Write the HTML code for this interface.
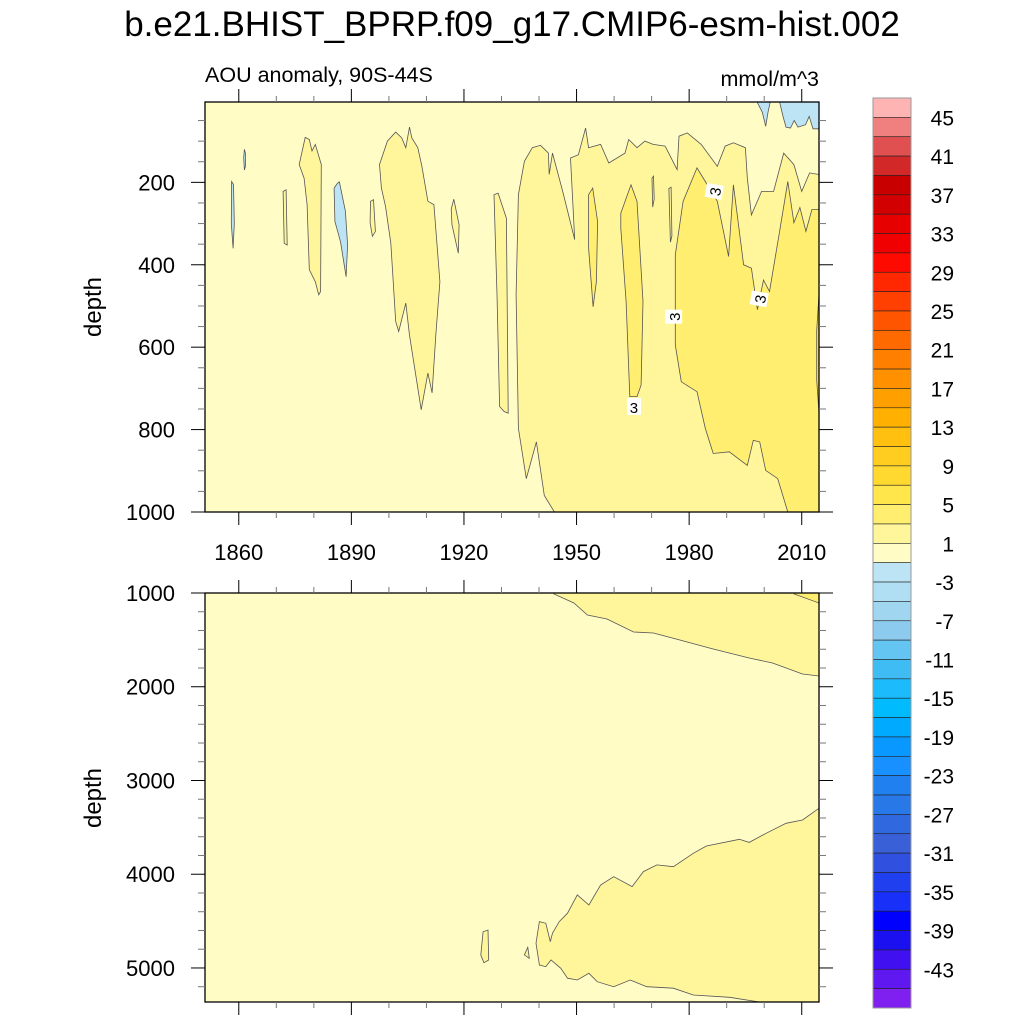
<!DOCTYPE html>
<html><head><meta charset="utf-8">
<style>
html,body{margin:0;padding:0;background:#fff;}
svg{display:block;font-family:"Liberation Sans",sans-serif;}
</style></head>
<body>
<svg id="chart" width="1024" height="1024" viewBox="0 0 1024 1024" xmlns="http://www.w3.org/2000/svg">
<text x="512" y="36" font-size="35" text-anchor="middle">b.e21.BHIST_BPRP.f09_g17.CMIP6-esm-hist.002</text>
<text x="205" y="82" font-size="21.5">AOU anomaly, 90S-44S</text>
<text x="819" y="86" font-size="21.5" text-anchor="end">mmol/m^3</text>
<g id="top"></g>
<g id="bot"></g>
<g id="cbar"></g>
<text transform="translate(101,307) rotate(-90)" font-size="24" text-anchor="middle">depth</text>
<text transform="translate(101,798) rotate(-90)" font-size="24" text-anchor="middle">depth</text>
</svg>
<script>
const NS="http://www.w3.org/2000/svg";
// ---- data ----
const xTickYears=[1860,1890,1920,1950,1980,2010];
const topDepthTicks=[200,400,600,800,1000];
const botDepthTicks=[1000,2000,3000,4000,5000];
const levelLabels=[45,41,37,33,29,25,21,17,13,9,5,1,-3,-7,-11,-15,-19,-23,-27,-31,-35,-39,-43];
const levelColors=["#ffb4b4","#f08080","#e05050","#d32828","#c80000","#d20000","#e60000","#f00000","#ff0a00","#ff2800","#ff4000","#ff5500","#ff6a00","#ff8000","#ff9000","#ffa000","#ffb000","#ffc010","#ffcc20","#ffd830","#ffe64a","#ffee70","#fff59b","#fffcc6","#bde4f5","#b0def3","#a0d6f0","#8ccbee","#64c4f2","#40bcf5","#1cbcfc","#00bcff","#00aaff","#0898ff","#1890ff","#2080f0","#2878e8","#3068e0","#3a60d8","#3050e0","#2040f0","#1830f8","#0000ff","#1a10f0","#4010f0","#6018f0","#8020f0"];
// contour regions [year, depth]
const topMain=[[1944.1,1000],[1941.4,960],[1939.3,830],[1936.6,919],[1934.5,797],[1933.9,473],[1934.5,230],[1936.1,149],[1938.2,116],[1940.4,110],[1942.5,129],[1942.7,181],[1943.6,129],[1946.3,222],[1949.5,339],[1948.4,141],[1950.5,133],[1952.4,68],[1953.2,116],[1956.4,108],[1958.6,153],[1962.9,129],[1963.9,96],[1966.1,116],[1968.2,100],[1970.4,108],[1973.6,112],[1976.8,169],[1977.3,88],[1979.5,80],[1983.2,108],[1987.5,161],[1989.6,112],[1991.8,104],[1995,116],[1995.5,189],[1996.6,279],[1999.3,222],[2002.5,222],[2005.2,129],[2007.9,157],[2010,222],[2012.1,177],[2014.6,181],[2014.6,1000]];
const topDark=[[2006.3,1000],[2003.6,919],[2000.4,899],[1998.8,830],[1997.1,826],[1995.5,887],[1990.7,854],[1986.4,858],[1984.3,797],[1982.1,708],[1977.9,684],[1976.3,595],[1976.3,376],[1978.4,246],[1982.1,165],[1984.3,198],[1987.5,246],[1990.5,380],[1991.8,206],[1994.5,400],[1996.6,408],[1998.2,509],[1999.8,437],[2001.4,465],[2004.1,319],[2006.3,198],[2007.9,298],[2009.5,261],[2011.1,319],[2012.7,266],[2014.6,266],[2014.6,1000]];
const topDarker=[[2014.6,470],[2014.0,560],[2014.0,680],[2014.6,760]];
const col1965=[[1961.8,275],[1964.5,206],[1966.1,246],[1967.7,489],[1967.2,692],[1966.1,720],[1964.2,720],[1963.2,489],[1961.8,311]];
const col1955=[[1953.2,230],[1954.3,214],[1955.6,295],[1955.3,441],[1954.4,502],[1953.2,360]];
const reg1905=[[1897.5,157],[1899.6,100],[1901.8,78],[1903.4,92],[1904.5,116],[1905.5,66],[1906.1,92],[1907.7,116],[1908.8,161],[1910.4,246],[1912,254],[1913.6,441],[1912.5,571],[1911.5,711],[1910.4,663],[1908.6,752],[1905.5,571],[1904.5,493],[1902.6,562],[1901.8,538],[1900.5,347],[1899.1,258],[1898,214]];
const reg1880=[[1876.1,157],[1877.7,91],[1878.8,96],[1879.5,124],[1880.4,108],[1882,157],[1881.8,465],[1881.3,473],[1880.4,441],[1878.8,412],[1878.2,254],[1877.4,190]];
const reg1930=[[1928,230],[1929.1,226],[1931.3,287],[1931.8,760],[1930.7,756],[1929.5,744],[1928.8,473]];
const reg1917=[[1916.6,265],[1917.3,241],[1918.7,303],[1918.5,372],[1916.8,303]];
const reg1872=[[1871.8,222],[1872.6,218],[1872.9,352],[1872.1,348]];
const reg1895=[[1895.1,246],[1895.9,242],[1896.4,319],[1895.6,331],[1895,298]];
const reg1970=[[1970.1,190],[1970.5,185],[1970.7,240],[1970.3,260]];
const reg1975=[[1974.6,215],[1975.2,212],[1975.4,330],[1975,345]];
const blue1888=[[1885.4,214],[1886.3,202],[1886.8,199],[1888.4,270],[1889,352],[1888.6,429],[1887.1,344],[1885.6,295]];
const blue1858=[[1858.1,198],[1858.6,205],[1858.8,300],[1858.5,360],[1858.0,300]];
const blue1861=[[1861.5,120],[1861.8,130],[1861.8,160],[1861.5,170],[1861.3,140]];
const blueA=[[1998.1,5],[1999.5,30],[2000.4,64],[2001,30],[2001.6,5]];
const blueB=[[2004.1,5],[2005,40],[2005.8,66],[2007,68],[2008,50],[2009,66],[2011,60],[2012,40],[2013,70],[2014.6,70],[2014.6,5]];
const labelPos=[[1986.8,222,-80],[1998.8,483,-80],[1976,526,-90],[1965.3,745,0]];
const botUpper=[[1944.0,1000],[1944.0,1011],[1949.3,1107],[1952.9,1235],[1958.1,1277],[1965.2,1416],[1970.5,1427],[1977.5,1501],[1986.4,1597],[1996,1693],[2002.2,1747],[2010.2,1864],[2014.6,1885],[2014.6,1000]];
const botCorner=[[2008,1000],[2008,1011],[2014.6,1107],[2014.6,1000]];
const botLower=[[2014.6,3297],[2010.2,3421],[2005.8,3457],[2000.5,3563],[1996,3660],[1993.4,3627],[1984.6,3699],[1981.1,3777],[1975.8,3920],[1971.4,3901],[1967.8,3972],[1964.8,4132],[1959.9,4026],[1956.4,4115],[1953.3,4328],[1950.2,4221],[1947.6,4416],[1945.4,4505],[1943.6,4629],[1943,4719],[1941.8,4523],[1940.1,4505],[1939.2,4736],[1940.1,4968],[1941.8,4986],[1943.2,4915],[1945.8,5003],[1947.6,5109],[1950.2,5128],[1953.3,5057],[1955.5,5146],[1959.9,5200],[1964.3,5128],[1968.7,5200],[1975.8,5216],[1981.1,5288],[1990.8,5313],[1998.7,5370],[2014.6,5370]];
const botSmall1=[[1925.1,4613],[1926.4,4595],[1926.6,4915],[1925.3,4944],[1924.5,4861]];
const botSmall2=[[1937,4779],[1937.4,4897],[1936.1,4861]];
// ---- axes ----
const X0=205,X1=819,YR0=1851,YR1=2014.6;
const xs=y=>X0+(y-YR0)/(YR1-YR0)*(X1-X0);
const T={y0:102,y1:512,d0:5,d1:1000};
const B={y0:593,y1:1002,d0:1000,d1:5363};
const ys=(P,d)=>P.y0+(d-P.d0)/(P.d1-P.d0)*(P.y1-P.y0);
function el(tag,attrs,parent){const e=document.createElementNS(NS,tag);for(const k in attrs)e.setAttribute(k,attrs[k]);parent.appendChild(e);return e;}
function poly(P,pts,fill,parent,name){
  const d=pts.map(p=>xs(Math.min(Math.max(p[0],YR0),YR1)).toFixed(1)+","+ys(P,Math.min(Math.max(p[1],P.d0),P.d1)).toFixed(1)).join(" ");
  const e=el("polygon",{points:d,fill:fill,stroke:"#555","stroke-width":"0.8"},parent);
  
  
}
const C1="#fffcc6",C3="#fff59b",C5="#ffee70",C7="#ffe64a",CB="#bde4f5";
function panel(P,g){
  const clipId="clip"+P.y0;
  const cp=el("clipPath",{id:clipId},g);el("rect",{x:X0,y:P.y0,width:X1-X0,height:P.y1-P.y0},cp);
  const bg=el("rect",{x:X0,y:P.y0,width:X1-X0,height:P.y1-P.y0,fill:C1},g);
  
  
  return el("g",{"clip-path":"url(#"+clipId+")"},g);
}
function axes(P,g,depthTicks,minorStep,showXLabels){
  const fr=el("rect",{x:X0,y:P.y0,width:X1-X0,height:P.y1-P.y0,fill:"none",stroke:"#000","stroke-width":"1.3"},g);
  
  
  for(let yr=1860;yr<=2014;yr+=10){
    const major=xTickYears.includes(yr);const x=xs(yr);const L=major?13:6;
    el("line",{x1:x,x2:x,y1:P.y1,y2:P.y1+L,stroke:major?"#000":"#777","stroke-width":1},g);
    el("line",{x1:x,x2:x,y1:P.y0,y2:P.y0-L,stroke:major?"#000":"#777","stroke-width":1},g);
  }
  if(showXLabels){xTickYears.forEach(yr=>{const t=el("text",{x:xs(yr),y:P.y1+48,"font-size":22,"text-anchor":"middle"},g);t.textContent=yr;
    
    });}
  const first=Math.ceil(P.d0/minorStep)*minorStep;
  for(let d=first;d<=P.d1;d+=minorStep){
    const major=depthTicks.includes(d);const y=ys(P,d);const L=major?14:7;
    el("line",{x1:X0,x2:X0-L,y1:y,y2:y,stroke:major?"#000":"#777","stroke-width":1},g);
    el("line",{x1:X1,x2:X1+L,y1:y,y2:y,stroke:major?"#000":"#777","stroke-width":1},g);
  }
  depthTicks.forEach(d=>{const t=el("text",{x:175,y:ys(P,d)+8,"font-size":22,"text-anchor":"end"},g);t.textContent=d;
    
    });
}
// top panel
const gt=document.getElementById("top");
const it=panel(T,gt);
poly(T,topMain,C3,it,"contour-region-3-5");
poly(T,topDark,C5,it,"contour-region-5-7");
poly(T,topDarker,C7,it,"contour-region-7-9");
poly(T,col1965,C5,it,"contour-region-5-7");
poly(T,col1955,C5,it,"contour-region-5-7");
poly(T,reg1970,C3,it,"contour-region-3-5");
poly(T,reg1975,C3,it,"contour-region-3-5");
[reg1905,reg1880,reg1930,reg1917,reg1872,reg1895].forEach(r=>poly(T,r,C3,it,"contour-region-3-5"));
[blue1888,blue1858,blue1861,blueA,blueB].forEach(r=>poly(T,r,CB,it,"contour-region-negative"));
labelPos.forEach(p=>{
  const x=xs(p[0]),y=ys(T,p[1]);
  const g=el("g",{transform:`translate(${x},${y}) rotate(${p[2]})`},it);
  
  
  el("rect",{x:-7,y:-9,width:14,height:17,fill:"#fff"},g);
  const t=el("text",{x:0,y:6,"font-size":15,"text-anchor":"middle"},g);t.textContent="3";
});
axes(T,gt,topDepthTicks,50,true);
// bottom panel
const gb=document.getElementById("bot");
const ib=panel(B,gb);
poly(B,botUpper,C3,ib,"contour-region-3-5");
poly(B,botCorner,C5,ib,"contour-region-5-7");
poly(B,botLower,C3,ib,"contour-region-3-5");
poly(B,botSmall1,C3,ib,"contour-region-3-5");
poly(B,botSmall2,C3,ib,"contour-region-3-5");
axes(B,gb,botDepthTicks,200,false);
// colorbar
const cb=document.getElementById("cbar");
const CBX=873,CBW=38,CBY0=98,CBY1=1008,bh=(CBY1-CBY0)/levelColors.length;
levelColors.forEach((c,i)=>{
  const r=el("rect",{x:CBX,y:CBY0+i*bh,width:CBW,height:bh,fill:c,stroke:"#222","stroke-width":0.6},cb);
  
  
});
levelLabels.forEach((v,k)=>{
  const i=(47-v)/2;
  const t=el("text",{x:954,y:CBY0+i*bh+8,"font-size":21,"text-anchor":"end"},cb);t.textContent=v;
  
  
});
el("rect",{x:CBX,y:CBY0,width:CBW,height:CBY1-CBY0,fill:"none",stroke:"#999","stroke-width":1},cb);
</script>
</body></html>
